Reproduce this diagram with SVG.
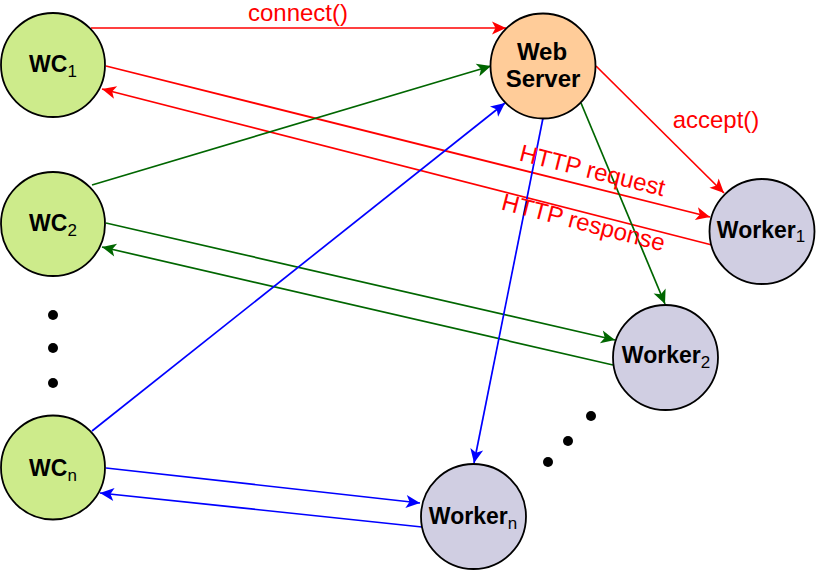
<svg xmlns="http://www.w3.org/2000/svg" width="816" height="571" viewBox="0 0 816 571">
<style>
.wc{fill:#cdeb8b;stroke:#000;stroke-width:1.8}
.ws{fill:#ffcc99;stroke:#000;stroke-width:1.8}
.wk{fill:#d0cee2;stroke:#000;stroke-width:1.8}
.lbl{font-family:"Liberation Sans",Arial,sans-serif;font-weight:bold;fill:#000;text-anchor:middle}
.sub{font-weight:normal;font-size:17px}
.r{stroke:#ff0000;stroke-width:1.7;fill:none;marker-end:url(#ar)}
.g{stroke:#006600;stroke-width:1.7;fill:none;marker-end:url(#ag)}
.b{stroke:#0000ff;stroke-width:1.7;fill:none;marker-end:url(#ab)}
.et{font-family:"Liberation Sans",Arial,sans-serif;font-size:24px;fill:#ff0000;text-anchor:middle}
.dot{fill:#000}
</style>
<defs>
<marker id="ar" viewBox="-15 -8 17 16" refX="0" refY="0" markerWidth="17" markerHeight="16" markerUnits="userSpaceOnUse" orient="auto"><path d="M0,0 L-14,-6.5 L-10.5,0 L-14,6.5 Z" fill="#ff0000"/></marker>
<marker id="ag" viewBox="-15 -8 17 16" refX="0" refY="0" markerWidth="17" markerHeight="16" markerUnits="userSpaceOnUse" orient="auto"><path d="M0,0 L-14,-6.5 L-10.5,0 L-14,6.5 Z" fill="#006600"/></marker>
<marker id="ab" viewBox="-15 -8 17 16" refX="0" refY="0" markerWidth="17" markerHeight="16" markerUnits="userSpaceOnUse" orient="auto"><path d="M0,0 L-14,-6.5 L-10.5,0 L-14,6.5 Z" fill="#0000ff"/></marker>
</defs>
<rect width="816" height="571" fill="#fff"/>
<g id="connectors">
<line class="r" x1="91" y1="28" x2="506" y2="28"/>
<line class="r" x1="596" y1="66" x2="724" y2="193"/>
<line class="r" x1="106" y1="66" x2="710" y2="217"/>
<line class="r" x1="712" y1="245" x2="102" y2="89"/>
<line class="g" x1="92" y1="185" x2="491" y2="66"/>
<line class="g" x1="581" y1="103" x2="665" y2="304"/>
<line class="g" x1="106" y1="223" x2="615" y2="340"/>
<line class="g" x1="613" y1="365" x2="102" y2="247"/>
<line class="b" x1="92" y1="431" x2="505" y2="103"/>
<line class="b" x1="543" y1="118" x2="474" y2="463"/>
<line class="b" x1="106" y1="468" x2="420" y2="503"/>
<line class="b" x1="422" y1="527" x2="100" y2="493"/>
<text class="et" x="298" y="21">connect()</text>
<text class="et" x="716" y="128">accept()</text>
<text class="et" x="590.5" y="178.3" transform="rotate(14 590.5 178.3)">HTTP request</text>
<text class="et" x="581.5" y="230.3" transform="rotate(14.5 581.5 230.3)">HTTP response</text>
</g>
<g id="wc1"><circle class="wc" cx="53" cy="65" r="52"/><text class="lbl" x="53" y="72" font-size="23">WC<tspan class="sub" dy="4.5">1</tspan></text></g>
<g id="wc2"><circle class="wc" cx="53" cy="224" r="52"/><text class="lbl" x="53" y="231" font-size="23">WC<tspan class="sub" dy="4.5">2</tspan></text></g>
<g id="wcn"><circle class="wc" cx="53" cy="467.5" r="52"/><text class="lbl" x="53" y="476" font-size="23">WC<tspan class="sub" dy="5">n</tspan></text></g>
<g id="webserver"><circle class="ws" cx="543" cy="66" r="52.5"/><text class="lbl" x="542" y="60" font-size="24">Web</text><text class="lbl" x="543" y="87" font-size="24">Server</text></g>
<g id="worker1"><circle class="wk" cx="762" cy="231.5" r="52.5"/><text class="lbl" x="761" y="237.7" font-size="23">Worker<tspan class="sub" dy="4.6">1</tspan></text></g>
<g id="worker2"><circle class="wk" cx="665.5" cy="357.5" r="52.5"/><text class="lbl" x="666" y="363.3" font-size="23">Worker<tspan class="sub" dy="4.6">2</tspan></text></g>
<g id="workern"><circle class="wk" cx="473.5" cy="516.5" r="52.5"/><text class="lbl" x="473" y="524.3" font-size="23">Worker<tspan class="sub" dy="4.6">n</tspan></text></g>
<g id="dots-left"><circle class="dot" cx="53" cy="315" r="5"/><circle class="dot" cx="53" cy="348" r="5"/><circle class="dot" cx="53" cy="383" r="5"/></g>
<g id="dots-right"><circle class="dot" cx="591" cy="416" r="5"/><circle class="dot" cx="568" cy="441" r="5"/><circle class="dot" cx="548" cy="462" r="5"/></g>
</svg>
